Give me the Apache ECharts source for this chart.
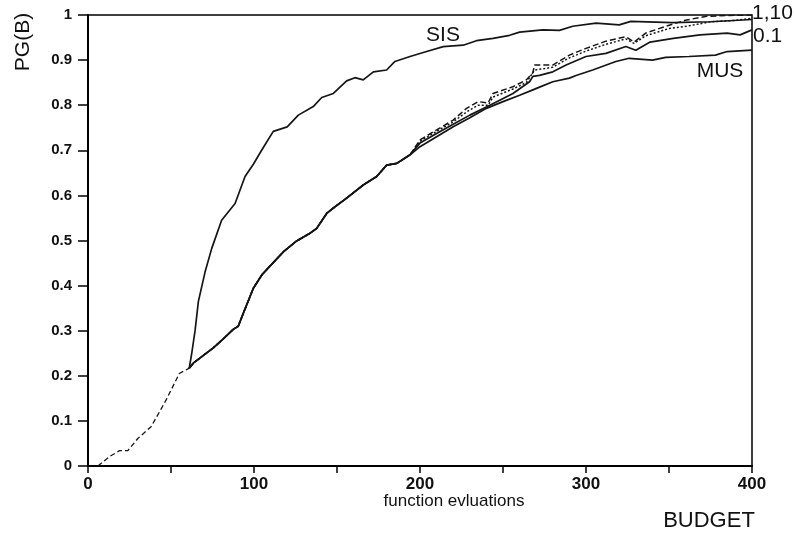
<!DOCTYPE html>
<html>
<head>
<meta charset="utf-8">
<script src="https://cdn.jsdelivr.net/npm/echarts@6/dist/echarts.min.js"></script>
<style>html,body{margin:0;padding:0;background:#fff}#c{width:794px;height:534px}</style>
</head>
<body>
<div id="c"></div>
<script>
// shared early part (all strategies identical)
var startX = [6, 13, 19, 24, 30, 38, 47, 55, 61];
var startY = [0, 0.021, 0.034, 0.034, 0.061, 0.087, 0.146, 0.205, 0.217];

// SIS
var sisX = [61, 62.5, 64.5, 66.5, 70.5, 74.5, 80.5, 88.6, 94.6, 99.6, 104.6, 111.6, 120, 126.7, 135.7, 140.8, 147.8, 155.8, 160.8, 165.8, 171.9, 179.9, 184.9, 194, 204, 214, 226, 234, 244, 254, 260, 274, 284, 292, 306, 320, 327, 352, 375, 400];
var sisY = [0.217, 0.25, 0.30, 0.365, 0.43, 0.482, 0.545, 0.582, 0.642, 0.669, 0.70, 0.742, 0.752, 0.778, 0.797, 0.817, 0.826, 0.854, 0.861, 0.856, 0.874, 0.878, 0.897, 0.908, 0.919, 0.930, 0.933, 0.943, 0.948, 0.955, 0.962, 0.967, 0.966, 0.975, 0.982, 0.978, 0.986, 0.983, 0.985, 0.99];

// common part of lower group (MUS, 0.1, 1, 10)
var lowX = [61, 63.4, 75.5, 81.5, 87.5, 90.5, 93.6, 99.6, 105, 111.6, 118, 125.7, 133.7, 137.8, 143.8, 147.8, 155.8, 165.8, 173.9, 179.9, 186, 194];
var lowY = [0.217, 0.228, 0.262, 0.282, 0.303, 0.31, 0.339, 0.394, 0.425, 0.451, 0.476, 0.499, 0.516, 0.527, 0.56, 0.572, 0.594, 0.623, 0.642, 0.667, 0.671, 0.69];

var musX = [200, 210, 220, 230, 240, 250, 260, 268, 272, 280, 290, 294, 304, 318, 326, 340, 348, 362, 378, 385, 400];
var musY = [0.708, 0.73, 0.752, 0.772, 0.793, 0.808, 0.822, 0.834, 0.840, 0.852, 0.86, 0.866, 0.878, 0.897, 0.904, 0.90, 0.906, 0.908, 0.911, 0.919, 0.922];

var p01X = [200, 210, 220, 230, 240.6, 256, 266, 268, 272, 280, 288, 300, 312, 324, 330, 338.6, 352.6, 368.7, 385, 392.8, 400];
var p01Y = [0.716, 0.737, 0.758, 0.778, 0.797, 0.826, 0.852, 0.864, 0.866, 0.874, 0.889, 0.908, 0.915, 0.93, 0.922, 0.94, 0.948, 0.956, 0.96, 0.956, 0.967];

var p1X = [200, 208, 220, 228, 235, 241, 244, 256, 264, 268, 269, 280, 290, 300, 312, 324, 329, 336, 350.6, 360.6, 372.7, 385, 400];
var p1Y = [0.723, 0.741, 0.767, 0.793, 0.808, 0.805, 0.826, 0.841, 0.856, 0.872, 0.889, 0.889, 0.911, 0.926, 0.942, 0.952, 0.94, 0.96, 0.978, 0.989, 0.997, 0.999, 1.0];

var p10X = [200, 210, 220, 228, 235, 241, 244, 256, 264, 269, 280, 290, 300, 312, 324, 329, 336, 350, 362, 375, 390, 400];
var p10Y = [0.72, 0.742, 0.763, 0.785, 0.80, 0.80, 0.818, 0.836, 0.85, 0.878, 0.884, 0.905, 0.92, 0.935, 0.947, 0.937, 0.954, 0.97, 0.976, 0.985, 0.988, 0.993];

var xTicks = [0, 100, 200, 300, 400];

function pairs(xs, ys) { return xs.map(function (x, i) { return [x, ys[i]]; }); }

var chart = echarts.init(document.getElementById('c'), null, { renderer: 'canvas' });
var font = '"Liberation Sans", Arial, Helvetica, sans-serif';
var lineCol = '#151515';

function ser(name, data, type, width) {
  return {
    name: name, type: 'line', data: data, showSymbol: false, symbol: 'none',
    lineStyle: { color: lineCol, width: width || 1.7, type: type || 'solid' },
    silent: true, animation: false
  };
}

chart.setOption({
  animation: false,
  textStyle: { fontFamily: font },
  grid: { left: 88, right: 42, top: 15, bottom: 68, show: true, borderColor: '#000', borderWidth: 1.5, backgroundColor: 'transparent' },
  xAxis: {
    type: 'value', min: 0, max: 400, interval: 50,
    axisLine: { onZero: false, lineStyle: { color: '#000', width: 2 } },
    axisTick: { show: true, inside: false, length: 7, lineStyle: { color: '#000', width: 1.5 } },
    splitLine: { show: false },
    axisLabel: {
      color: '#111', fontSize: 17, fontWeight: 'bold', fontFamily: font, margin: 10,
      formatter: function (v) { return xTicks.indexOf(v) >= 0 ? String(v) : ''; }
    }
  },
  yAxis: {
    type: 'value', min: 0, max: 1, interval: 0.1,
    axisLine: { lineStyle: { color: '#000', width: 2 } },
    axisTick: { show: true, inside: false, length: 10, lineStyle: { color: '#000', width: 1.5 } },
    splitLine: { show: false },
    axisLabel: {
      color: '#111', fontSize: 15, fontWeight: 'bold', fontFamily: font, margin: 16,
      formatter: function (v) { return String(Math.round(v * 10) / 10); }
    }
  },
  series: [
    ser('start', pairs(startX, startY), [5, 3], 1.3),
    ser('SIS', pairs(sisX, sisY)),
    ser('1', pairs(lowX, lowY).concat(pairs(p1X, p1Y)), [6, 3], 1.5),
    ser('10', pairs(lowX, lowY).concat(pairs(p10X, p10Y)), [2, 2], 1.5),
    ser('0.1', pairs(lowX, lowY).concat(pairs(p01X, p01Y))),
    ser('MUS', pairs(lowX, lowY).concat(pairs(musX, musY)))
  ],
  graphic: [
    { type: 'text', x: 23, y: 42, rotation: Math.PI / 2, style: { text: 'PG(B)', font: '21px ' + font, fill: '#111', textAlign: 'center', textVerticalAlign: 'middle' } },
    { type: 'text', x: 443, y: 35, style: { text: 'SIS', font: '21px ' + font, fill: '#111', textAlign: 'center', textVerticalAlign: 'middle' } },
    { type: 'text', x: 720, y: 71, style: { text: 'MUS', font: '21px ' + font, fill: '#111', textAlign: 'center', textVerticalAlign: 'middle' } },
    { type: 'text', x: 752, y: 13, style: { text: '1,10', font: '21px ' + font, fill: '#111', textAlign: 'left', textVerticalAlign: 'middle' } },
    { type: 'text', x: 753, y: 36, style: { text: '0.1', font: '21px ' + font, fill: '#111', textAlign: 'left', textVerticalAlign: 'middle' } },
    { type: 'text', x: 454, y: 501, style: { text: 'function evluations', font: '17px ' + font, fill: '#111', textAlign: 'center', textVerticalAlign: 'middle' } },
    { type: 'text', x: 709, y: 521, style: { text: 'BUDGET', font: '22px ' + font, fill: '#111', textAlign: 'center', textVerticalAlign: 'middle' } }
  ]
});
</script>
</body>
</html>
